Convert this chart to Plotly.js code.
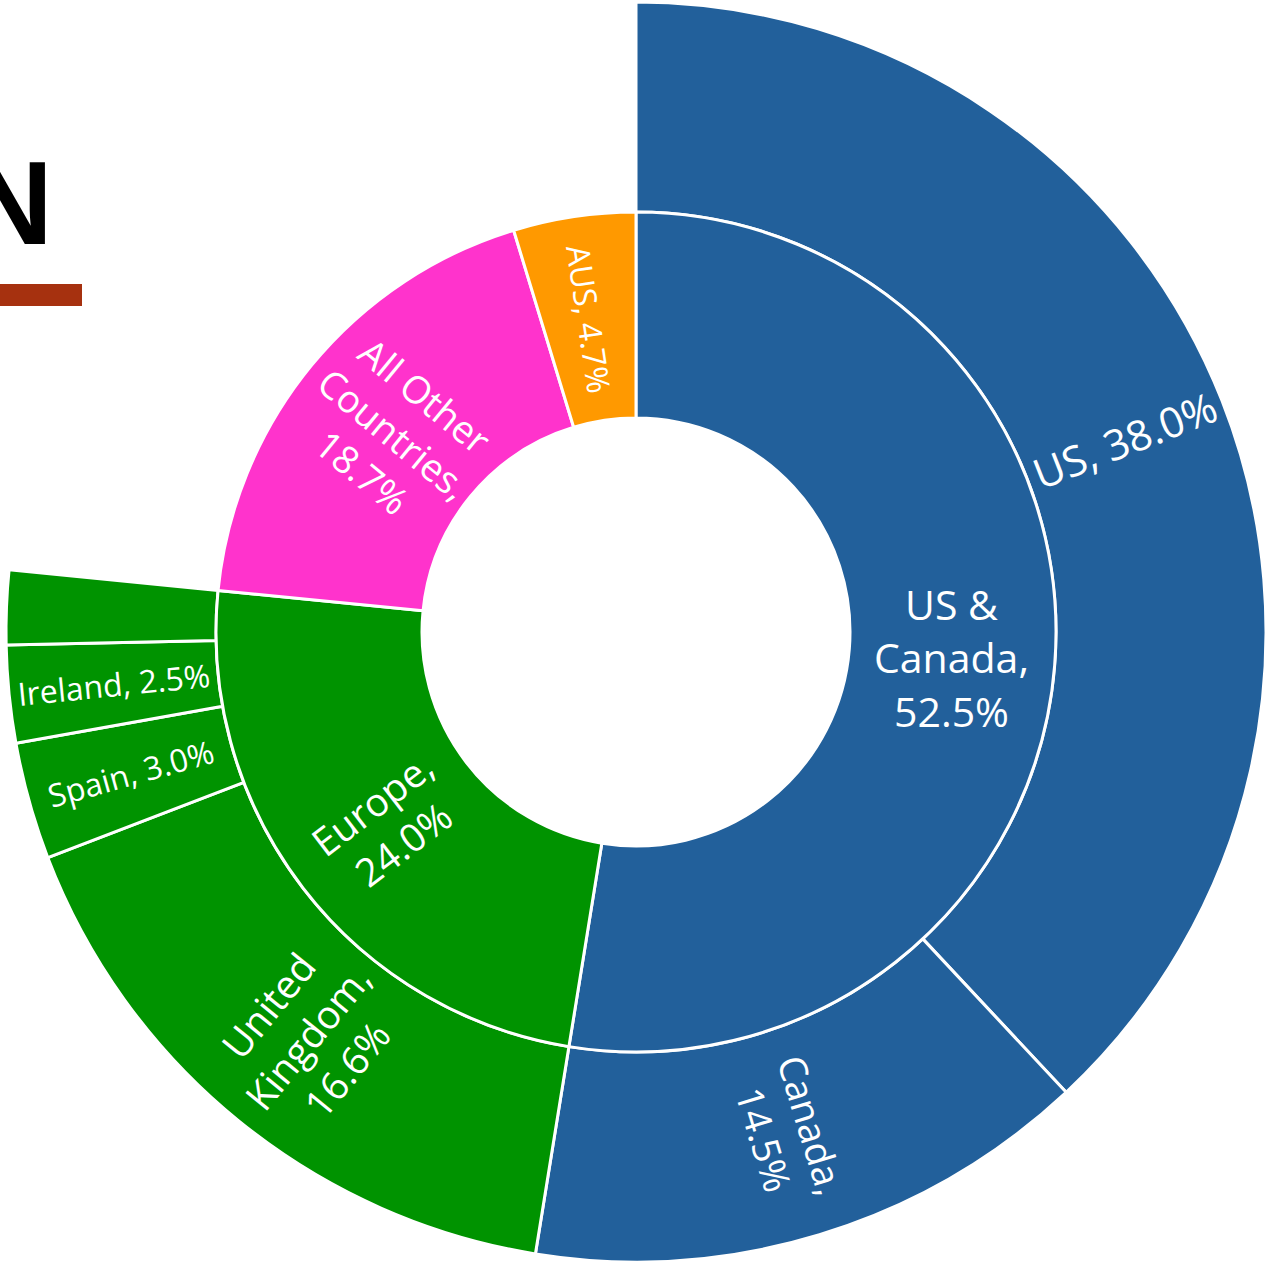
<!DOCTYPE html>
<html>
<head>
<meta charset="utf-8">
<script src="https://cdn.plot.ly/plotly-3.0.1.min.js"></script>
<style>html,body{margin:0;padding:0;background:#fff;}#chart{width:1266px;height:1264px;}</style>
</head>
<body>
<div id="chart"></div>
<script>
// Inner ring: regions
var regionLabels = ["US & Canada", "Europe", "All Other Countries", "AUS"];
var regionText = ["US &<br>Canada,", "Europe,", "All Other<br>Countries,", "AUS,"];
var regionValues = [52.5, 24.0, 18.7, 4.7];
var regionColors = ["#22609B", "#009300", "#FF33CC", "#FF9900"];

// Outer ring: countries (blank slices for regions with no breakdown)
var countryLabels = ["US", "Canada", "United Kingdom", "Spain", "Ireland", "Other Europe", "All Other Countries (blank)", "AUS (blank)"];
var countryText = ["US,", "Canada,", "United<br>Kingdom,", "Spain,", "Ireland,", "", "", ""];
var countryValues = [38.0, 14.5, 16.6, 3.0, 2.5, 1.9, 18.7, 4.7];
var countryColors = ["#22609B", "#22609B", "#009300", "#009300", "#009300", "#009300", "rgba(0,0,0,0)", "rgba(0,0,0,0)"];

var W = 1266, H = 1264;
var CX = 636, CY = 632;          // pie centre in pixels (top-left origin)
var R_OUT = 630, R_MID = 420, R_IN = 214;

var one = "%{text} %{value:.1f}%";
var two = "%{text}<br>%{value:.1f}%";

var outer = {
  type: "pie", sort: false, direction: "clockwise", rotation: 0,
  labels: countryLabels, values: countryValues, text: countryText,
  texttemplate: ["", two, two, one, one, "", "", ""],
  textposition: "inside", insidetextorientation: "radial",
  textfont: {color: "#ffffff", family: "Open Sans", size: [38, 38, 39, 32, 32, 20, 20, 20]},
  marker: {colors: countryColors, line: {color: "#ffffff", width: [3, 3, 3, 3, 3, 3, 0, 0]}},
  hole: R_MID / R_OUT,
  domain: {x: [(CX - R_OUT)/W, (CX + R_OUT)/W], y: [(H - CY - R_OUT)/H, (H - CY + R_OUT)/H]},
  showlegend: false, hoverinfo: "label+value"
};

var innerDomain = {x: [(CX - R_MID)/W, (CX + R_MID)/W], y: [(H - CY - R_MID)/H, (H - CY + R_MID)/H]};

var innerA = {
  type: "pie", sort: false, direction: "clockwise", rotation: 0,
  labels: regionLabels, values: regionValues,
  textinfo: "none",
  marker: {colors: regionColors, line: {color: "#ffffff", width: 3}},
  hole: R_IN / R_MID,
  domain: innerDomain,
  showlegend: false, hoverinfo: "label+value"
};

var innerB = {
  type: "pie", sort: false, direction: "clockwise", rotation: 0,
  labels: regionLabels, values: regionValues, text: regionText,
  texttemplate: ["", two, two, one],
  textposition: "inside", insidetextorientation: "radial",
  textfont: {color: "#ffffff", family: "Open Sans", size: [38, 39, 38, 32]},
  marker: {colors: ["rgba(0,0,0,0)", "rgba(0,0,0,0)", "rgba(0,0,0,0)", "rgba(0,0,0,0)"], line: {width: 0}},
  hole: R_IN / R_MID,
  domain: innerDomain,
  showlegend: false, hoverinfo: "skip"
};

// label placed at the middle of a slice (derived from the data)
function sliceLabel(values, idx, rIn, rOut, txt, size, radial) {
  var total = values.reduce(function(a, b){ return a + b; }, 0);
  var cum = 0;
  for (var i = 0; i < idx; i++) cum += values[i];
  var theta = (cum + values[idx] / 2) / total * 2 * Math.PI;
  var r = (rIn + rOut) / 2;
  var px = CX + r * Math.sin(theta);
  var py = CY - r * Math.cos(theta);
  var deg = theta * 180 / Math.PI;
  var ang = radial ? deg - 90 : 0;
  if (ang > 90) ang -= 180;
  if (ang < -90) ang += 180;
  return {
    text: txt, xref: "paper", yref: "paper", x: px / W, y: 1 - py / H,
    xanchor: "center", yanchor: "middle", textangle: ang, showarrow: false,
    font: {family: "Open Sans", size: size, color: "#ffffff"}
  };
}

var layout = {
  width: W, height: H,
  margin: {l: 0, r: 0, t: 0, b: 0, autoexpand: false},
  paper_bgcolor: "#ffffff",
  showlegend: false,
  annotations: [
    {
      text: "<b>N</b>", xref: "paper", yref: "paper",
      x: 55/W, y: (H-203)/H, xanchor: "right", yanchor: "middle",
      showarrow: false, font: {family: "Liberation Sans", size: 119, color: "#000000"}
    },
    sliceLabel(countryValues, 0, R_MID, R_OUT, countryText[0] + " " + countryValues[0].toFixed(1) + "%", 42, true),
    sliceLabel(regionValues, 0, R_IN, R_MID, regionText[0] + "<br>" + regionValues[0].toFixed(1) + "%", 41, false)
  ],
  shapes: [{
    type: "rect", xref: "paper", yref: "paper",
    x0: 0, x1: 82/W, y0: (H-306)/H, y1: (H-284)/H,
    fillcolor: "#A6310F", line: {width: 0}
  }]
};

Plotly.newPlot("chart", [outer, innerA, innerB], layout, {displayModeBar: false, staticPlot: true});
</script>
</body>
</html>
